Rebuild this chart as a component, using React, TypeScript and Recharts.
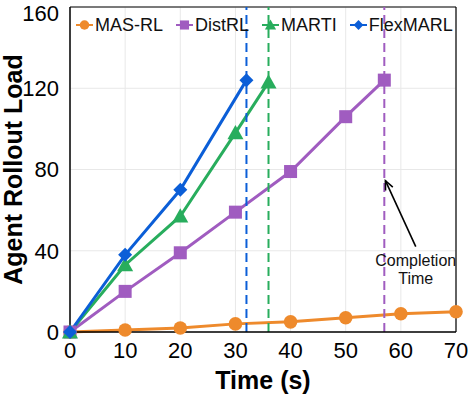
import {
  LineChart,
  Line,
  XAxis,
  YAxis,
  CartesianGrid,
  ReferenceLine,
} from "recharts";

// time (s) / rollout load per method
const masTime = [0, 10, 20, 30, 40, 50, 60, 70];
const masLoad = [0, 1, 2, 4, 5, 7, 9, 10];
const distTime = [0, 10, 20, 30, 40, 50, 57];
const distLoad = [0, 20, 39, 59, 79, 106, 124];
const martiTime = [0, 10, 20, 30, 36];
const martiLoad = [0, 33, 57, 98, 123];
const flexTime = [0, 10, 20, 32];
const flexLoad = [0, 38, 70, 124];

const completion = [
  { t: 32, color: "#0b5ed7" },
  { t: 36, color: "#28ad5d" },
  { t: 57, color: "#a05cc0" },
];

const xTicks = [0, 10, 20, 30, 40, 50, 60, 70];
const yTicks = [0, 40, 80, 120, 160];

// arrow from the note up to the DistRL completion line
const arrowFrom = { x: 62.7, y: 42 };
const arrowTo = { x: 57.2, y: 74.5 };

const toRows = (ts: number[], vs: number[]) => ts.map((t, i) => ({ t, v: vs[i] }));

const series = [
  { name: "MAS-RL", color: "#ee8a2c", shape: "circle", data: toRows(masTime, masLoad) },
  { name: "DistRL", color: "#a05cc0", shape: "square", data: toRows(distTime, distLoad) },
  { name: "MARTI", color: "#28ad5d", shape: "triangle", data: toRows(martiTime, martiLoad) },
  { name: "FlexMARL", color: "#0b5ed7", shape: "diamond", data: toRows(flexTime, flexLoad) },
];

const FONT = "'Liberation Sans', Arial, sans-serif";

function Marker({ cx, cy, shape, color, s = 1 }: any) {
  if (cx == null || cy == null) return null;
  if (shape === "circle") return <circle cx={cx} cy={cy} r={6.8 * s} fill={color} />;
  if (shape === "square") {
    const h = 6.5 * s;
    return <rect x={cx - h} y={cy - h} width={2 * h} height={2 * h} fill={color} />;
  }
  if (shape === "triangle") {
    const h = 8 * s;
    return (
      <polygon
        points={`${cx},${cy - h} ${cx + h},${cy + h * 0.8} ${cx - h},${cy + h * 0.8}`}
        fill={color}
      />
    );
  }
  const h = 7 * s;
  return (
    <polygon points={`${cx},${cy - h} ${cx + h},${cy} ${cx},${cy + h} ${cx - h},${cy}`} fill={color} />
  );
}

const LegendBox = () => (
  <div
    style={{
      position: "absolute",
      left: 76,
      top: 15,
      display: "flex",
      gap: 13,
      fontFamily: FONT,
      fontSize: 18,
      lineHeight: "20px",
      color: "#111",
      whiteSpace: "nowrap",
    }}
  >
    {series.map((s) => (
      <div key={s.name} style={{ display: "flex", alignItems: "center", gap: 2 }}>
        <svg width={17} height={14}>
          <line x1={0} y1={7} x2={17} y2={7} stroke={s.color} strokeWidth={2} />
          <Marker cx={8.5} cy={7} shape={s.shape} color={s.color} s={0.7} />
        </svg>
        <span>{s.name}</span>
      </div>
    ))}
  </div>
);

const Arrow = (props: any) => {
  const { x1, y1, x2, y2 } = props;
  if (x1 == null) return null;
  const ang = Math.atan2(y2 - y1, x2 - x1);
  const L = 9;
  const W = 4;
  const bx = x2 - L * Math.cos(ang);
  const by = y2 - L * Math.sin(ang);
  const px = -Math.sin(ang) * W;
  const py = Math.cos(ang) * W;
  return (
    <g>
      <line x1={x1} y1={y1} x2={x2} y2={y2} stroke="#000" strokeWidth={1.6} />
      <polyline
        points={`${bx + px},${by + py} ${x2},${y2} ${bx - px},${by - py}`}
        fill="none"
        stroke="#000"
        strokeWidth={1.6}
      />
      <text x={x1} y={y1 + 19} textAnchor="middle" fontSize={16} fontFamily={FONT} fill="#111">
        <tspan x={x1}>Completion</tspan>
        <tspan x={x1} dy={18.6}>
          Time
        </tspan>
      </text>
    </g>
  );
};

const YTitle = ({ viewBox }: any) => {
  const cy = viewBox.y + viewBox.height / 2;
  return (
    <text
      x={13}
      y={cy}
      transform={`rotate(-90 13 ${cy})`}
      textAnchor="middle"
      dominantBaseline="central"
      fontSize={25}
      fontWeight="bold"
      fontFamily={FONT}
      fill="#000"
    >
      Agent Rollout Load
    </text>
  );
};

export default function App() {
  return (
    <div style={{ position: "absolute", left: 0, top: 0, background: "#fff" }}>
      <LineChart width={469} height={394} margin={{ top: 7, right: 13, bottom: 0, left: 0 }}>
        <CartesianGrid stroke="#e8e8e8" strokeWidth={1} />
        <XAxis
          type="number"
          dataKey="t"
          domain={[0, 70]}
          ticks={xTicks}
          allowDuplicatedCategory={false}
          height={62}
          axisLine={{ stroke: "#000", strokeWidth: 1.5 }}
          tickLine={false}
          tick={{ fontSize: 22, fill: "#000", fontFamily: FONT }}
          tickMargin={4}
          label={{
            value: "Time (s)",
            position: "insideBottom",
            offset: 5,
            style: { fontSize: 25, fontWeight: "bold", fill: "#000", fontFamily: FONT },
          }}
        />
        <YAxis
          type="number"
          domain={[0, 160]}
          ticks={yTicks}
          width={70}
          axisLine={{ stroke: "#000", strokeWidth: 1.5 }}
          tickLine={false}
          tick={{ fontSize: 22, fill: "#000", fontFamily: FONT }}
          tickMargin={5}
          label={<YTitle />}
        />
        <ReferenceLine y={160} stroke="#000" strokeWidth={1.2} />
        <ReferenceLine x={70} stroke="#000" strokeWidth={1.2} />
        {series.map((s) => (
          <Line
            key={s.name}
            data={s.data}
            dataKey="v"
            name={s.name}
            stroke={s.color}
            strokeWidth={3}
            isAnimationActive={false}
            dot={(p: any) => <Marker key={p.index} cx={p.cx} cy={p.cy} shape={s.shape} color={s.color} />}
          />
        ))}
        {completion.map((c) => (
          <ReferenceLine key={c.t} x={c.t} stroke={c.color} strokeWidth={2} strokeDasharray="9 5" />
        ))}
        <ReferenceLine segment={[arrowFrom, arrowTo]} shape={Arrow} />
      </LineChart>
      <LegendBox />
    </div>
  );
}
